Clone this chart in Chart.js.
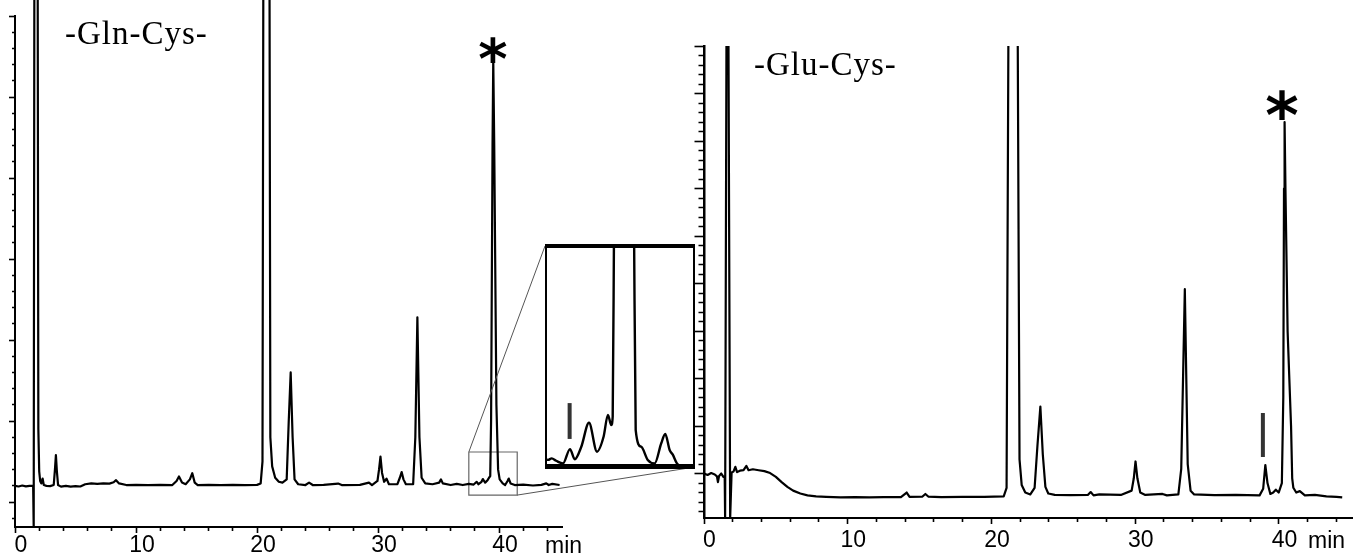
<!DOCTYPE html>
<html>
<head>
<meta charset="utf-8">
<script src="https://cdn.jsdelivr.net/npm/chart.js@4.4.0/dist/chart.umd.min.js"></script>
<style>
  html, body { margin:0; padding:0; background:#fff; }
  #page { position:relative; width:1356px; height:556px; overflow:hidden; background:#fff; }
  #page canvas { position:absolute; top:0; }
  #left, #overlay { left:0; }
  #right { left:680px; }
  #insetBox { position:absolute; left:545px; top:244px; width:146px; height:216px;
    border-style:solid; border-color:#000; border-width:4px 2px 5px 2px; background:#fff; }
  #insetBox canvas { position:static !important; display:block; }
  .lbl { position:absolute; line-height:1; white-space:nowrap; color:#000; }
  .pep { font-family:'Liberation Serif', 'Times New Roman', serif; font-size:33px; letter-spacing:1px; }
  .star { font-family:'DejaVu Sans', sans-serif; font-weight:bold; text-align:center; width:100px; }
  .unit { font-family:'Liberation Sans', Arial, sans-serif; font-size:23px; }
</style>
</head>
<body>
<div id="page">
  <canvas id="left" width="600" height="556"></canvas>
  <canvas id="overlay" width="1356" height="556"></canvas>
  <canvas id="right" width="676" height="556"></canvas>
  <div id="insetBox"><canvas id="inset" width="146" height="216"></canvas></div>
  <div class="lbl pep" style="left:65px;top:17px">-Gln-Cys-</div>
  <div class="lbl pep" style="left:754px;top:48px">-Glu-Cys-</div>
  <div class="lbl star" style="left:443px;top:31px;font-size:56px">*</div>
  <div class="lbl star" style="left:1232px;top:84px;font-size:64px">*</div>
  <div class="lbl unit" style="left:545px;top:534px">min</div>
  <div class="lbl unit" style="left:1308px;top:529px">min</div>
</div>
<script>
// -Gln-Cys- trace (retention time in min, detector signal)
const leftTime = [
  0, 0.3, 0.6, 0.9, 1.2, 1.5, 1.52, 1.57, 1.62, 1.85,
  1.93, 2.0, 2.08, 2.17, 2.28, 2.38, 2.6, 2.9, 3.2, 3.3,
  3.38, 3.46, 3.56, 3.8, 4.2, 4.6, 5.0, 5.4, 5.8, 6.3,
  6.8, 7.3, 7.8, 8.15, 8.35, 8.6, 9.2, 10, 11, 12,
  13, 13.35, 13.55, 13.8, 14.1, 14.45, 14.65, 14.85, 15.1, 16,
  17, 18, 19, 20, 20.3, 20.45, 20.55, 21.0, 21.1, 21.25,
  21.5, 21.8, 22.1, 22.45, 22.62, 22.78, 22.94, 23.1, 23.4, 24.0,
  24.3, 24.6, 25.5, 26.7, 27.0, 28.5, 29.25, 29.5, 29.95, 30.08,
  30.2, 30.33, 30.5, 30.7, 30.9, 31.6, 31.8, 31.95, 32.1, 32.3,
  32.9, 33.08, 33.25, 33.42, 33.6, 33.9, 34.5, 35.05, 35.2, 35.35,
  36.0, 36.5, 37.0, 37.5, 37.9, 38.15, 38.3, 38.55, 38.66, 38.85,
  39.05, 39.17, 39.27, 39.34, 39.46, 39.52, 39.6, 39.78, 39.92, 40.05,
  40.3, 40.5, 40.7, 40.8, 40.95, 41.3, 42.0, 42.8, 43.5, 43.9,
  44.1, 44.4, 45.0
];
const leftSignal = [
  1.0, 0.96, 1.02, 0.97, 1.0, 1.0, -1.54, -1.54, 45, 45,
  4.5, 1.9, 1.3, 1.15, 1.45, 1.05, 1.0, 0.98, 1.05, 2.0,
  2.9, 1.9, 1.05, 0.95, 1.0, 0.95, 0.98, 0.96, 1.1, 1.15,
  1.12, 1.15, 1.14, 1.22, 1.35, 1.15, 1.05, 1.06, 1.05, 1.06,
  1.05, 1.3, 1.58, 1.2, 1.1, 1.4, 1.78, 1.2, 1.05, 1.06,
  1.05, 1.06, 1.05, 1.06, 1.15, 2.5, 45, 45, 4.0, 2.2,
  1.5, 1.25, 1.2, 1.4, 5, 8.0, 4, 1.4, 1.1, 1.05,
  1.2, 1.05, 1.06, 1.14, 1.05, 1.06, 1.2, 1.05, 1.3, 2.0,
  2.8, 1.8, 1.25, 1.45, 1.1, 1.1, 1.5, 1.85, 1.4, 1.1,
  1.1, 4, 11.4, 4, 1.5, 1.15, 1.1, 1.2, 1.4, 1.15,
  1.05, 1.12, 1.05, 1.12, 1.08, 1.25, 1.1, 1.25, 1.42, 1.2,
  1.35, 1.5, 1.6, 5, 22, 27.3, 22, 6, 2.0, 1.4,
  1.15, 1.05, 1.3, 1.45, 1.15, 1.05, 1.08, 1.02, 1.06, 1.15,
  1.05, 1.12, 1.05
];

// -Glu-Cys- trace
const rightTime = [
  0, 0.25, 0.5, 0.75, 0.9, 0.97, 1.05, 1.2, 1.35, 1.44,
  1.47, 1.52, 1.58, 1.68, 1.82, 1.87, 1.92, 2.05, 2.18, 2.3,
  2.5, 2.75, 2.95, 3.1, 3.4, 3.8, 4.2, 4.6, 5.0, 5.4,
  5.8, 6.2, 6.7, 7.2, 7.8, 8.5, 9.5, 10.5, 11.5, 12.5,
  13.7, 14.1, 14.3, 15.2, 15.4, 15.6, 16.5, 18.0, 19.5, 20.85,
  21.05, 21.2, 21.8, 21.95, 22.1, 22.35, 22.7, 23.0, 23.2, 23.4,
  23.57, 23.75, 23.95, 24.4, 25.5, 26.7, 26.9, 27.1, 27.5, 29.0,
  29.75, 29.9, 30.02, 30.15, 30.35, 30.7, 31.9, 32.2, 33.0, 33.2,
  33.45, 33.65, 33.85, 34.1, 35.5, 37.0, 38.65, 38.9, 39.05, 39.2,
  39.4, 39.6, 39.78, 39.98, 40.2, 40.3, 40.35, 40.39, 40.45, 40.6,
  40.84, 40.92, 41.0, 41.2, 41.45, 41.8, 42.5, 43.3, 44.0, 44.4
];
const rightSignal = [
  0, -0.15, 0.05, -0.1, -0.3, -0.9, -0.25, 0, -0.35, -0.3,
  -4.68, -4.68, 55, 55, -4.68, -4.68, 0.1, 0.2, 0.7, 0.15,
  0.3, 0.35, 0.8, 0.35, 0.45, 0.35, 0.25, 0.05, -0.35, -0.9,
  -1.4, -1.8, -2.1, -2.3, -2.4, -2.45, -2.5, -2.48, -2.5, -2.48,
  -2.48, -2.0, -2.45, -2.42, -2.15, -2.42, -2.48, -2.45, -2.45, -2.4,
  -1.5, 55, 55, 1.5, -1.2, -2.0, -2.2, -1.5, 3, 7.05,
  2, -1.4, -2.1, -2.25, -2.28, -2.25, -1.95, -2.3, -2.2, -2.25,
  -1.8, -0.5, 1.27, -0.5, -2.0, -2.25, -2.15, -2.3, -2.2, 0.5,
  19.4, 1.0, -1.8, -2.2, -2.28, -2.25, -2.3, -1.6, 0.9, -1.0,
  -2.15, -2.0, -1.7, -2.0, -1.0, 8, 30, 37, 30, 15,
  5, -0.5, -1.5, -2.0, -1.85, -2.3, -2.25, -2.4, -2.45, -2.5
];

// enlarged view of the 37.5-41.5 min window of -Gln-Cys-
const insetTime = [
  37.5, 37.53, 37.63, 37.75, 37.94, 38.13, 38.26, 38.44, 38.65, 38.87,
  39.05, 39.17, 39.26, 39.3, 39.34, 39.6, 39.88, 39.93, 40.08, 40.26,
  40.45, 40.63, 40.74, 40.86, 40.95, 41.06, 41.2, 41.5
];
const insetSignal = [
  0.2, 0.19, 0.26, 0.15, 0.03, 0.69, 0.22, 0.8, 1.91, 0.57,
  1.26, 2.27, 1.8, 2.2, 12, 60, 12, 1.57, 0.8, 0.19,
  0.03, 0.96, 1.39, 0.65, 0.42, 0.03, -0.1, -0.1
];

// zoom window on the left trace, and the two "|" markers
const rectTime   = [37.5, 41.5, 41.5, 37.5, 37.5];
const rectSignal = [3.09, 3.09, 0.43, 0.43, 3.09];
const insetMarkTime   = [38.12, 38.12];
const insetMarkSignal = [1.16, 2.82];
const rightMarkTime   = [38.88, 38.88];
const rightMarkSignal = [1.74, 6.37];

// axis ticks
const xTicks = [0, 2, 4, 6, 8, 10, 12, 14, 16, 18, 20, 22, 24, 26, 28, 30, 32, 34, 36, 38, 40, 42, 44];
const xLabelValues = [0, 10, 20, 30, 40];
const leftYTicks = [-1, 0, 1, 2, 3, 4, 5, 6, 7, 8, 9, 10, 11, 12, 13, 14, 15, 16, 17, 18, 19, 20,
  21, 22, 23, 24, 25, 26, 27, 28, 29, 30];
const rightYTicks = [-4, -3, -2, -1, 0, 1, 2, 3, 4, 5, 6, 7, 8, 9, 10, 11, 12, 13, 14, 15, 16, 17, 18, 19, 20,
  21, 22, 23, 24, 25, 26, 27, 28, 29, 30, 31, 32, 33, 34, 35, 36, 37, 38, 39, 40, 41, 42, 43, 44, 45];

function pts(xs, ys) { return xs.map((x, i) => ({ x, y: ys[i] })); }

function trace(xs, ys, extra) {
  return Object.assign({
    data: pts(xs, ys), borderColor: '#000', borderWidth: 2.2, pointRadius: 0,
    tension: 0, fill: false, borderJoinStyle: 'round'
  }, extra);
}

function xAxis(max, height, padding, labelOffset) {
  return {
    type: 'linear', min: 0, max,
    border: { display: true, color: '#000', width: 2 },
    grid: {
      display: true, drawOnChartArea: false, drawTicks: true, tickLength: 6,
      tickWidth: 1.6, tickColor: '#000',
      tickBorderDash: c => (c.tick && c.tick.value % 10 === 0) ? [] : [3, 10]
    },
    ticks: {
      autoSkip: false, maxRotation: 0, minRotation: 0, padding, labelOffset, color: '#000',
      font: { family: "'Liberation Sans', Arial, sans-serif", size: 23, lineHeight: 1 },
      callback: v => xLabelValues.includes(v) ? String(v) : ''
    },
    afterBuildTicks: s => { s.ticks = xTicks.map(v => ({ value: v })); },
    afterFit: s => { s.height = height; }
  };
}

function yAxis(ticks, min, max, width, tickLength, minorGap, borderWidth) {
  return {
    type: 'linear', min, max,
    border: { display: true, color: '#000', width: borderWidth },
    grid: {
      display: true, drawOnChartArea: false, drawTicks: true, tickLength,
      tickWidth: 1.6, tickColor: '#000',
      tickBorderDash: c => (c.tick && c.tick.value % 5 === 0) ? [] : [0, minorGap, tickLength, 0]
    },
    ticks: { display: false },
    afterBuildTicks: s => { s.ticks = ticks.map(v => ({ value: v })); },
    afterFit: s => { s.width = width; }
  };
}

const base = {
  responsive: false, animation: false, devicePixelRatio: 1,
  plugins: { legend: { display: false }, tooltip: { enabled: false } }
};

const leftChart = new Chart(document.getElementById('left'), {
  type: 'line',
  data: { datasets: [
    trace(leftTime, leftSignal, { clip: { left: 0, top: false, right: 2, bottom: 0 } }),
    trace(rectTime, rectSignal, { borderColor: '#666', borderWidth: 1.2, borderJoinStyle: 'miter' })
  ] },
  options: Object.assign({}, base, {
    layout: { padding: { top: 16, right: 38, left: 0, bottom: 0 } },
    scales: {
      x: xAxis(45.2, 29, 1, 6),
      y: yAxis(leftYTicks, -1.54, 30, 15, 6, 3, 2)
    }
  })
});

new Chart(document.getElementById('right'), {
  type: 'line',
  data: { datasets: [
    trace(rightTime, rightSignal),
    trace(rightMarkTime, rightMarkSignal, { borderColor: '#333', borderWidth: 4, borderCapStyle: 'butt' })
  ] },
  options: Object.assign({}, base, {
    layout: { padding: { top: 46, right: 4, left: 0, bottom: 0 } },
    scales: {
      x: xAxis(45.08, 38, 5, 5.5),
      y: yAxis(rightYTicks, -4.68, 45, 24, 9.5, 4, 2.5)
    }
  })
});

new Chart(document.getElementById('inset'), {
  type: 'line',
  data: { datasets: [
    trace(insetTime, insetSignal, { borderWidth: 2.4, cubicInterpolationMode: 'monotone' }),
    trace(insetMarkTime, insetMarkSignal, { borderColor: '#333', borderWidth: 4, borderCapStyle: 'butt' })
  ] },
  options: Object.assign({}, base, {
    layout: { padding: 0 },
    scales: {
      x: { type: 'linear', display: false, min: 37.5, max: 41.5 },
      y: { type: 'linear', display: false, min: 0, max: 10 }
    }
  })
});

// guide lines from the zoom window to the enlarged box
(function drawGuides() {
  const ctx = document.getElementById('overlay').getContext('2d');
  const page = document.getElementById('page').getBoundingClientRect();
  const box = document.getElementById('insetBox').getBoundingClientRect();
  const xs = leftChart.scales.x, ys = leftChart.scales.y;
  ctx.strokeStyle = '#555';
  ctx.lineWidth = 1;
  ctx.beginPath();
  ctx.moveTo(xs.getPixelForValue(rectTime[0]), ys.getPixelForValue(rectSignal[0]));
  ctx.lineTo(box.left - page.left, box.top - page.top + 2);
  ctx.moveTo(xs.getPixelForValue(rectTime[1]), ys.getPixelForValue(rectSignal[2]));
  ctx.lineTo(box.right - page.left, box.bottom - page.top - 2);
  ctx.stroke();
})();
</script>
</body>
</html>
